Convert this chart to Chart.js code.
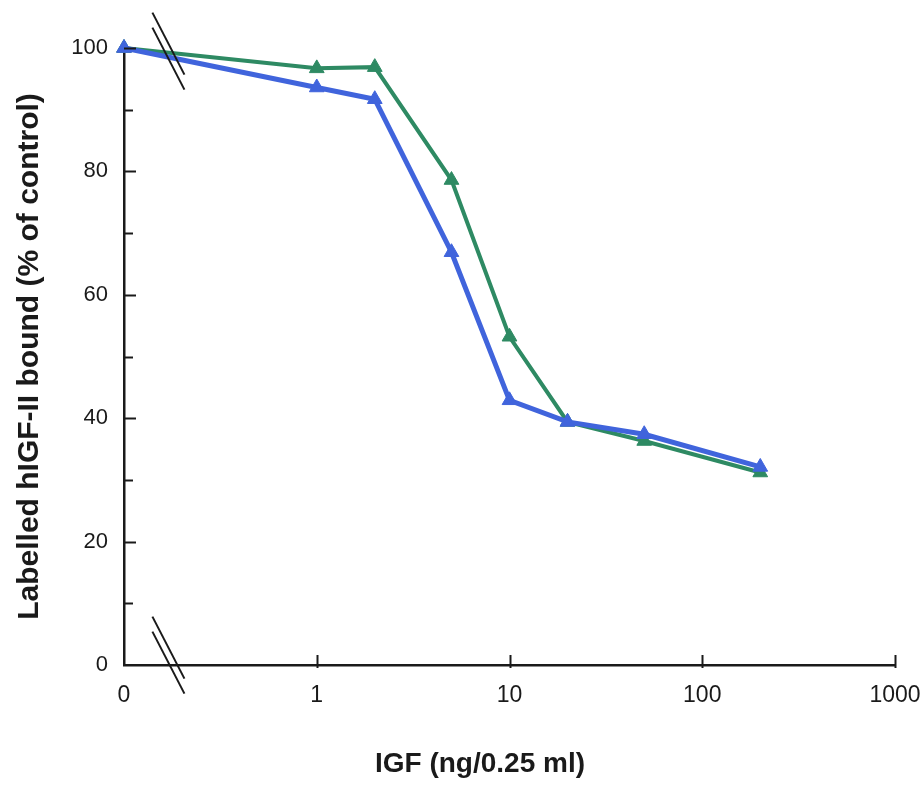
<!DOCTYPE html>
<html><head><meta charset="utf-8">
<script src="https://cdn.jsdelivr.net/npm/chart.js@4.4.1/dist/chart.umd.min.js"></script>
<style>html,body{margin:0;padding:0;background:#fff}#wrap{width:923px;height:786px}</style>
</head><body><div id="wrap"><canvas id="c" width="923" height="786"></canvas></div>
<script>
// Data
const doses = [0, 1, 2, 5, 10, 20, 50, 200];           // IGF (ng/0.25 ml)
const seriesBlue = [100, 93.6, 91.7, 66.9, 42.9, 39.4, 37.4, 32.1];
const seriesGreen = [100, 96.7, 96.9, 78.6, 53.2, 39.4, 36.3, 31.2];
const xTickValues = [0.1, 1, 10, 100, 1000];
const xTickLabels = ['0', '1', '10', '100', '1000'];
const yTickValues = [0, 20, 40, 60, 80, 100];
const yMinorTickValues = [10, 20, 30, 40, 50, 60, 70, 80, 90, 100];
const ZERO_POS = 0.1; // where dose 0 sits on the broken log axis
const xTitle = 'IGF (ng/0.25 ml)';
const yTitle = 'Labelled hIGF-II bound (% of control)';

const xPos = d => (d === 0 ? ZERO_POS : d);
const toPts = vals => doses.map((d, i) => ({x: xPos(d), y: vals[i]}));

const INK = '#1a1a1a';
const FONT = '"Liberation Sans", Arial, sans-serif';

const decor = {
  id: 'decor',
  afterDraw(chart) {
    const {ctx} = chart;
    const xs = chart.scales.x, ys = chart.scales.y;
    const ax = xs.left, ay = ys.bottom;
    ctx.save();
    ctx.strokeStyle = INK;
    ctx.lineWidth = 2;
    // y tick marks (inward)
    yMinorTickValues.forEach(v => {
      const py = Math.round(ys.getPixelForValue(v)) + 0.5;
      const len = v % 20 === 0 ? 12 : 9;
      ctx.beginPath(); ctx.moveTo(ax, py); ctx.lineTo(ax + len, py); ctx.stroke();
    });
    // x tick marks (crossing)
    xTickValues.slice(1).forEach(v => {
      const px = Math.round(xs.getPixelForValue(v)) + 0.5;
      ctx.beginPath(); ctx.moveTo(px, ay - 10); ctx.lineTo(px, ay + 3); ctx.stroke();
    });
    // axis break marks
    const bx = xs.getPixelForValue(0.17);
    const drawBreak = (cx, cy) => {
      const hx = 16, hy = 31, off = 7.5;
      [-off, off].forEach(o => {
        ctx.beginPath();
        ctx.moveTo(cx - hx, cy + o - hy);
        ctx.lineTo(cx + hx, cy + o + hy);
        ctx.stroke();
      });
    };
    drawBreak(bx, ys.getPixelForValue(99.5));
    drawBreak(bx, ys.getPixelForValue(1.6));
    // x axis title
    ctx.fillStyle = INK;
    ctx.font = 'bold 28px ' + FONT;
    ctx.textAlign = 'center';
    ctx.textBaseline = 'middle';
    ctx.fillText(xTitle, 480, 764);
    ctx.restore();
  }
};

new Chart(document.getElementById('c'), {
  type: 'line',
  data: {
    datasets: [
      {
        label: 'blue', data: toPts(seriesBlue),
        borderColor: '#4064dc', backgroundColor: '#4064dc',
        borderWidth: 5, pointStyle: 'triangle', pointRadius: 8.5,
        pointBorderWidth: 1, clip: false, tension: 0
      },
      {
        label: 'green', data: toPts(seriesGreen),
        borderColor: '#2e8a63', backgroundColor: '#2e8a63',
        borderWidth: 4, pointStyle: 'triangle', pointRadius: 8.5,
        pointBorderWidth: 1, clip: false, tension: 0
      }
    ]
  },
  options: {
    responsive: false,
    animation: false,
    devicePixelRatio: 1,
    layout: {padding: {top: 48, right: 28, left: 0, bottom: 0}},
    plugins: {legend: {display: false}, tooltip: {enabled: false}},
    scales: {
      x: {
        type: 'logarithmic', min: 0.1, max: 1000,
        afterBuildTicks: s => { s.ticks = xTickValues.map(v => ({value: v})); },
        afterFit: s => { s.height = 121; s.paddingLeft = 0; s.paddingRight = 0; },
        grid: {display: false, drawTicks: false},
        border: {display: true, color: INK, width: 2.5},
        ticks: {
          autoSkip: false, maxRotation: 0, padding: 17, color: INK,
          font: {family: FONT, size: 23},
          callback: (v, i) => xTickLabels[i]
        }
      },
      y: {
        type: 'linear', min: 0, max: 100,
        afterBuildTicks: s => { s.ticks = yTickValues.map(v => ({value: v})); },
        afterFit: s => { s.width = 124; s.paddingTop = 0; s.paddingBottom = 0; },
        grid: {display: false, drawTicks: false},
        border: {display: true, color: INK, width: 2.5},
        ticks: {
          padding: 16, color: INK,
          font: {family: FONT, size: 22}
        },
        title: {
          display: true, text: yTitle, color: INK,
          font: {family: FONT, size: 30, weight: 'bold'},
          padding: {top: 12, bottom: 0}
        }
      }
    }
  },
  plugins: [decor]
});
</script>
</body></html>
